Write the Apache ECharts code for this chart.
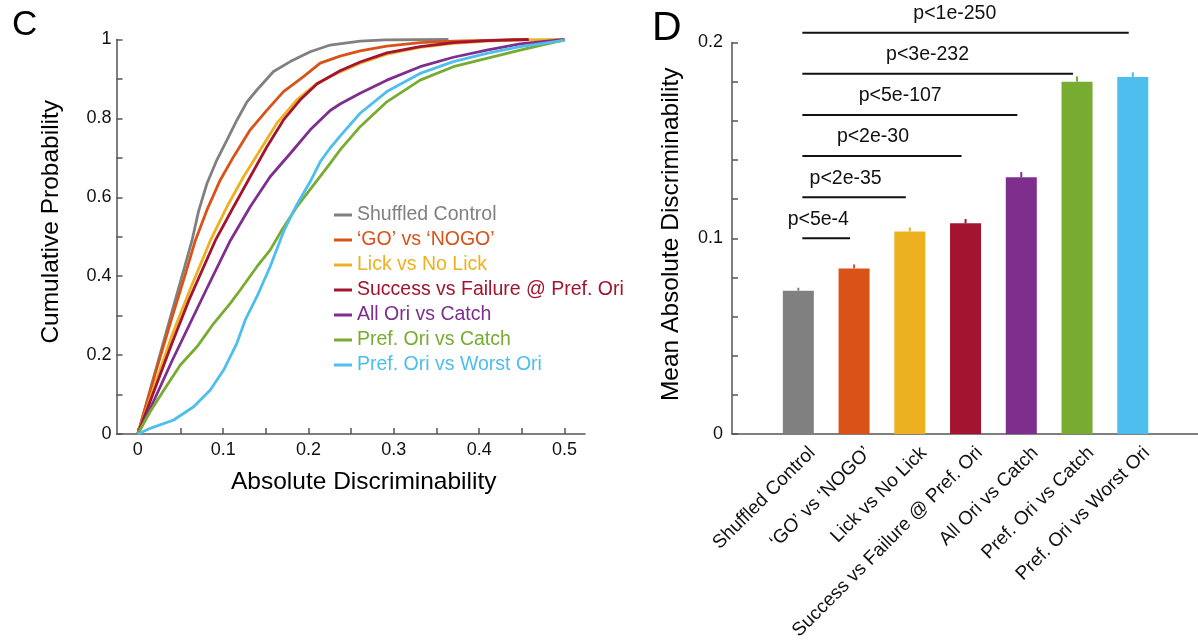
<!DOCTYPE html>
<html>
<head>
    <meta charset="utf-8">
    <script src="https://cdn.jsdelivr.net/npm/echarts@6/dist/echarts.min.js"></script>
</head>
<body style="margin:0;background:#fff">
<div id="main" style="width:1198px;height:644px;"></div>

<script>
    // series names / colours (MATLAB default order)
    var seriesNames = ['Shuffled Control', '\u2018GO\u2019 vs \u2018NOGO\u2019', 'Lick vs No Lick',
        'Success vs Failure @ Pref. Ori', 'All Ori vs Catch', 'Pref. Ori vs Catch', 'Pref. Ori vs Worst Ori'];
    var colors = ['#808080', '#D95319', '#EDB120', '#A2142F', '#7E2F8E', '#77AC30', '#4DBEEE'];

    // panel C: cumulative curves, [absolute discriminability, cumulative probability]
    var cdfShuffled = [[0, 0], [0.02, 0.155], [0.04, 0.31], [0.055, 0.425], [0.0634, 0.49], [0.0712, 0.565],
        [0.081, 0.635], [0.0927, 0.695], [0.1044, 0.745], [0.1162, 0.796], [0.1279, 0.842], [0.1395, 0.872],
        [0.159, 0.919], [0.1786, 0.944], [0.202, 0.969], [0.2254, 0.986], [0.2605, 0.996], [0.29, 0.999], [0.364, 1]];
    var cdfGoNogo = [[0, 0], [0.02, 0.15], [0.04, 0.295], [0.055, 0.40], [0.0673, 0.49], [0.081, 0.568],
        [0.0966, 0.644], [0.1122, 0.703], [0.1317, 0.771], [0.1513, 0.821], [0.1707, 0.868], [0.1941, 0.906],
        [0.2137, 0.94], [0.237, 0.958], [0.2605, 0.971], [0.2918, 0.983], [0.3308, 0.992], [0.3698, 0.996],
        [0.4089, 0.998], [0.45, 1]];
    var cdfLick = [[0, 0], [0.02, 0.125], [0.04, 0.25], [0.06, 0.36], [0.0849, 0.49], [0.1044, 0.576],
        [0.1239, 0.652], [0.1434, 0.72], [0.163, 0.788], [0.1864, 0.847], [0.2098, 0.889], [0.237, 0.918],
        [0.2605, 0.94], [0.2918, 0.963], [0.3308, 0.98], [0.3698, 0.99], [0.4089, 0.996], [0.45, 0.999], [0.5, 1]];
    var cdfSuccess = [[0, 0], [0.02, 0.115], [0.04, 0.23], [0.06, 0.34], [0.0907, 0.49], [0.1122, 0.576],
        [0.1317, 0.652], [0.1513, 0.728], [0.1707, 0.796], [0.1903, 0.847], [0.2098, 0.887], [0.237, 0.921],
        [0.2605, 0.943], [0.2918, 0.966], [0.3308, 0.982], [0.3698, 0.992], [0.4089, 0.997], [0.458, 1]];
    var cdfAllOri = [[0, 0], [0.02, 0.09], [0.04, 0.185], [0.06, 0.275], [0.08, 0.365], [0.1083, 0.49],
        [0.1317, 0.576], [0.155, 0.652], [0.1786, 0.711], [0.202, 0.771], [0.2254, 0.82], [0.237, 0.8365],
        [0.2605, 0.864], [0.2918, 0.897], [0.3308, 0.931], [0.3698, 0.955], [0.4089, 0.973], [0.448, 0.989], [0.5, 1]];
    var cdfPrefCatch = [[0, 0], [0.0146, 0.057], [0.0302, 0.11], [0.0498, 0.175], [0.0693, 0.221], [0.0888, 0.28],
        [0.1083, 0.331], [0.12, 0.365], [0.1395, 0.424], [0.155, 0.466], [0.1688, 0.517], [0.186, 0.575],
        [0.202, 0.62], [0.2254, 0.686], [0.237, 0.72], [0.2605, 0.779], [0.2918, 0.842], [0.3308, 0.897],
        [0.3698, 0.931], [0.4089, 0.952], [0.448, 0.973], [0.5, 0.999]];
    var cdfPrefWorst = [[0, 0], [0.0146, 0.0144], [0.042, 0.0355], [0.0654, 0.069], [0.0849, 0.1115], [0.1005, 0.162],
        [0.116, 0.23], [0.1259, 0.289], [0.1395, 0.348], [0.155, 0.424], [0.1715, 0.517], [0.186, 0.58],
        [0.202, 0.64], [0.2137, 0.69], [0.2254, 0.725], [0.237, 0.755], [0.2605, 0.813], [0.2918, 0.868],
        [0.3308, 0.914], [0.3698, 0.944], [0.4089, 0.965], [0.448, 0.982], [0.5, 0.998]];
    var cdfList = [cdfShuffled, cdfGoNogo, cdfLick, cdfSuccess, cdfAllOri, cdfPrefCatch, cdfPrefWorst];

    var cTicksX = [0, 0.05, 0.1, 0.15, 0.2, 0.25, 0.3, 0.35, 0.4, 0.45, 0.5];
    var cLabelsX = [0, 0.1, 0.2, 0.3, 0.4, 0.5];
    var cTicksY = [0, 0.1, 0.2, 0.3, 0.4, 0.5, 0.6, 0.7, 0.8, 0.9, 1];
    var cLabelsY = [0, 0.2, 0.4, 0.6, 0.8, 1];

    // panel D: mean absolute discriminability (+ s.e.m.)
    var barMeans = [0.0732, 0.0846, 0.1035, 0.1076, 0.1311, 0.1800, 0.1824];
    var barErrors = [0.0010, 0.0015, 0.0015, 0.0017, 0.0022, 0.0022, 0.0019];
    var dTicksY = [0, 0.02, 0.04, 0.06, 0.08, 0.1, 0.12, 0.14, 0.16, 0.18, 0.2];
    var dLabelsY = [0, 0.1, 0.2];

    // comparisons against the shuffled control (bar 1 -> bar n)
    var compTo = [2, 3, 4, 5, 6, 7];
    var compLevel = [0.100, 0.121, 0.142, 0.163, 0.184, 0.205];
    var compLabels = ['p<5e-4', 'p<2e-35', 'p<2e-30', 'p<5e-107', 'p<3e-232', 'p<1e-250'];

    var FONT = 'Liberation Sans, Arial, sans-serif';
    var labelShift = 0.25;   // rotated category labels sit a bit right of their tick

    function fmt(v) {
        return String(+v.toFixed(3));
    }

    var axisLineStyle = {color: '#555', width: 1.5};

    var myChart = echarts.init(document.getElementById('main'));

    var series = [];
    cdfList.forEach(function (d, i) {
        series.push({
            name: seriesNames[i],
            type: 'line',
            xAxisIndex: 0,
            yAxisIndex: 0,
            data: d,
            showSymbol: false,
            lineStyle: {width: 2.8, color: colors[i]},
            itemStyle: {color: colors[i]}
        });
    });

    series.push({
        type: 'bar',
        xAxisIndex: 1,
        yAxisIndex: 1,
        barWidth: 31,
        data: barMeans.map(function (v, i) {
            return {value: [i + 1, v], itemStyle: {color: colors[i]}};
        })
    });

    // error bars (upper half only)
    series.push({
        type: 'custom',
        xAxisIndex: 1,
        yAxisIndex: 1,
        clip: false,
        data: barMeans.map(function (v, i) {
            return [i + 1, v, barErrors[i]];
        }),
        renderItem: function (params, api) {
            var p1 = api.coord([api.value(0), api.value(1)]);
            var p2 = api.coord([api.value(0), api.value(1) + api.value(2)]);
            return {
                type: 'line',
                shape: {x1: p1[0], y1: p1[1], x2: p2[0], y2: p2[1] - 1},
                style: {stroke: colors[params.dataIndex], lineWidth: 2}
            };
        },
        z: 3
    });

    // significance lines
    series.push({
        type: 'custom',
        xAxisIndex: 1,
        yAxisIndex: 1,
        clip: false,
        data: compTo.map(function (t, i) {
            return [1, t, compLevel[i]];
        }),
        renderItem: function (params, api) {
            var a = api.coord([api.value(0), api.value(2)]);
            var b = api.coord([api.value(1), api.value(2)]);
            var x1 = a[0] + 4, x2 = b[0] - 4;
            return {
                type: 'group',
                children: [{
                    type: 'line',
                    shape: {x1: x1, y1: a[1], x2: x2, y2: a[1]},
                    style: {stroke: '#111', lineWidth: 2}
                }, {
                    type: 'text',
                    style: {
                        text: compLabels[params.dataIndex],
                        x: x1 + 16 + 27.3 * params.dataIndex,
                        y: a[1] - 19,
                        align: 'center',
                        verticalAlign: 'middle',
                        font: '19.5px ' + FONT,
                        fill: '#111'
                    }
                }]
            };
        }
    });

    var option = {
        animation: false,
        textStyle: {fontFamily: FONT},
        graphic: [
            {type: 'text', left: 12, top: 8, style: {text: 'C', font: '35px ' + FONT, fill: '#000'}},
            {type: 'text', left: 652, top: 8, style: {text: 'D', font: '41px ' + FONT, fill: '#000'}}
        ],
        legend: {
            orient: 'vertical',
            left: 334,
            top: 205,
            padding: 0,
            icon: 'rect',
            itemWidth: 18,
            itemHeight: 3,
            itemGap: 5,
            selectedMode: false,
            textStyle: {fontSize: 19.5, lineHeight: 19.5, fontFamily: FONT},
            data: seriesNames.map(function (n, i) {
                return {name: n, textStyle: {color: colors[i]}};
            })
        },
        grid: [
            {left: 116.5, top: 39.5, width: 468.5, height: 394.5},
            {left: 732, top: 42.5, right: 0, bottom: 210}
        ],
        xAxis: [{
            type: 'value',
            gridIndex: 0,
            min: -0.025,
            max: 0.524,
            name: 'Absolute Discriminability',
            nameLocation: 'middle',
            nameGap: 36,
            nameTextStyle: {fontSize: 24.5, color: '#000', padding: [0, 0, 0, 26]},
            splitLine: {show: false},
            axisLine: {lineStyle: axisLineStyle},
            axisTick: {inside: true, length: 6, customValues: cTicksX, lineStyle: axisLineStyle},
            axisLabel: {customValues: cLabelsX, formatter: fmt, fontSize: 18, color: '#111', margin: 7}
        }, {
            type: 'value',
            gridIndex: 1,
            min: -0.19,
            max: 8.17,
            splitLine: {show: false},
            axisLine: {lineStyle: axisLineStyle},
            axisTick: {inside: true, length: 6, customValues: [1, 2, 3, 4, 5, 6, 7], lineStyle: axisLineStyle},
            axisLabel: {
                customValues: barMeans.map(function (v, i) {
                    return i + 1 + labelShift;
                }),
                formatter: function (v) {
                    return seriesNames[Math.round(v - labelShift) - 1];
                },
                rotate: 45,
                fontSize: 19,
                color: '#111',
                margin: 16
            }
        }],
        yAxis: [{
            type: 'value',
            gridIndex: 0,
            min: 0,
            max: 1,
            name: 'Cumulative Probability',
            nameLocation: 'middle',
            nameGap: 53,
            nameTextStyle: {fontSize: 24.5, color: '#000', padding: [0, 0, 0, 30]},
            splitLine: {show: false},
            axisLine: {onZero: false, lineStyle: axisLineStyle},
            axisTick: {inside: true, length: 6, customValues: cTicksY, lineStyle: axisLineStyle},
            axisLabel: {customValues: cLabelsY, formatter: fmt, fontSize: 18, color: '#111', margin: 5}
        }, {
            type: 'value',
            gridIndex: 1,
            min: 0,
            max: 0.2,
            name: 'Mean Absolute Discriminability',
            nameLocation: 'middle',
            nameGap: 48,
            nameTextStyle: {fontSize: 24.5, color: '#000', padding: [0, 0, 0, 8]},
            splitLine: {show: false},
            axisLine: {onZero: false, lineStyle: axisLineStyle},
            axisTick: {inside: true, length: 6, customValues: dTicksY, lineStyle: axisLineStyle},
            axisLabel: {customValues: dLabelsY, formatter: fmt, fontSize: 18, color: '#111', margin: 9}
        }],
        series: series
    };
    myChart.setOption(option);
</script>
</body>
</html>
